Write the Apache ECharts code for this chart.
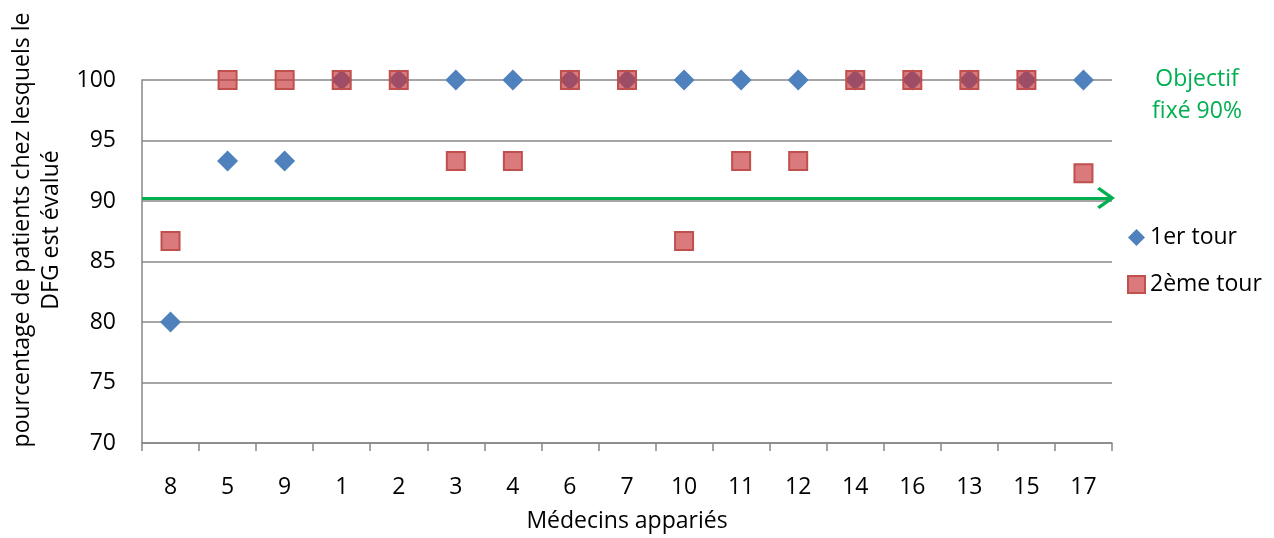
<!DOCTYPE html>
<html>
<head>
<meta charset="utf-8">
<script src="https://cdn.jsdelivr.net/npm/echarts@6/dist/echarts.min.js"></script>
<style>html,body{margin:0;padding:0;background:#fff;}#c{width:1274px;height:538px;}</style>
</head>
<body>
<div id="c"></div>
<script>
const categories = ['8','5','9','1','2','3','4','6','7','10','11','12','14','16','13','15','17'];
const tour1 = [80, 93.3, 93.3, 100, 100, 100, 100, 100, 100, 100, 100, 100, 100, 100, 100, 100, 100];
const tour2 = [86.7, 100, 100, 100, 100, 93.3, 93.3, 100, 100, 86.7, 93.3, 93.3, 100, 100, 100, 100, 92.3];
const objectifLine = 90.25;
const seriesNames = ['1er tour', '2ème tour'];
const yTitle = 'pourcentage de patients chez lesquels le\nDFG est évalué';
const xTitle = 'Médecins appariés';
const objectifText = 'Objectif\nfixé 90%';

const FONT = '"Open Sans"';
const FS = 23;
const chart = echarts.init(document.getElementById('c'), null, {renderer: 'canvas'});
const chevron = 'path://M0,12 L12,0 L24,12 L21.5,14 L12,4.5 L2.5,14 Z';
chart.setOption({
  animation: false,
  textStyle: {fontFamily: FONT},
  grid: {left: 142, right: 162, top: 80, bottom: 94},
  legend: {
    orient: 'vertical', left: 1122, top: 221, itemGap: 24,
    itemWidth: 17, itemHeight: 17,
    textStyle: {fontSize: FS, color: '#000', fontFamily: FONT},
    data: seriesNames
  },
  xAxis: {
    type: 'category', data: categories, boundaryGap: true,
    name: xTitle, nameLocation: 'middle', nameGap: 67,
    nameTextStyle: {fontSize: FS, color: '#000', fontFamily: FONT},
    axisLine: {lineStyle: {color: '#878787', width: 1.5}},
    axisTick: {show: true, length: 8, inside: false, lineStyle: {color: '#878787', width: 1.5}},
    axisLabel: {fontSize: FS, color: '#000', margin: 33, fontFamily: FONT},
    splitLine: {show: false}
  },
  yAxis: {
    type: 'value', min: 70, max: 100, interval: 5,
    axisLine: {show: true, lineStyle: {color: '#878787', width: 1.5}},
    axisTick: {show: false},
    axisLabel: {fontSize: FS, color: '#000', margin: 26, fontFamily: FONT},
    splitLine: {show: true, lineStyle: {color: '#878787', width: 1.5}}
  },
  graphic: [
    {type: 'text', rotation: Math.PI/2, x: 37, y: 230,
     style: {text: yTitle, font: FS + 'px ' + FONT, fill: '#000', align: 'center', verticalAlign: 'middle', lineHeight: 29}},
    {type: 'text', x: 1197, y: 95,
     style: {text: objectifText, font: FS + 'px ' + FONT, fill: '#00B050', align: 'center', verticalAlign: 'middle', lineHeight: 32}}
  ],
  series: [
    {
      name: seriesNames[0], type: 'scatter', data: tour1,
      symbol: 'diamond', symbolSize: 21,
      itemStyle: {color: '#4F81BD', opacity: 1},
      markLine: {
        silent: true,
        symbol: ['none', chevron], symbolSize: [22, 18],
        symbolOffset: [0, [0, 6]],
        lineStyle: {color: '#00B050', width: 3, type: 'solid'},
        label: {show: false},
        data: [{yAxis: objectifLine}]
      },
      z: 2
    },
    {
      name: seriesNames[1], type: 'scatter', data: tour2,
      symbol: 'rect', symbolSize: 18,
      itemStyle: {color: 'rgba(200,50,55,0.65)', borderColor: '#C0504D', borderWidth: 2, opacity: 1},
      z: 3
    }
  ]
});
</script>
</body>
</html>
